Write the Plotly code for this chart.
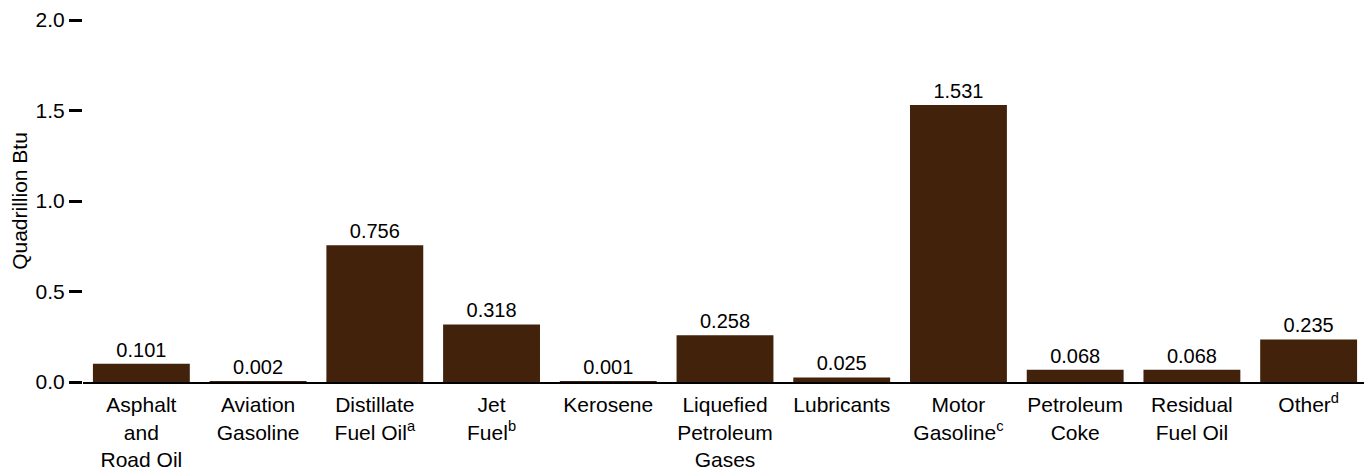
import plotly.graph_objects as go

categories = [
    "Asphalt<br>and<br>Road Oil",
    "Aviation<br>Gasoline",
    "Distillate<br>Fuel Oil<sup>a</sup>",
    "Jet<br>Fuel<sup>b</sup>",
    "Kerosene",
    "Liquefied<br>Petroleum<br>Gases",
    "Lubricants",
    "Motor<br>Gasoline<sup>c</sup>",
    "Petroleum<br>Coke",
    "Residual<br>Fuel Oil",
    "Other<sup>d</sup>",
]
values = [0.101, 0.002, 0.756, 0.318, 0.001, 0.258, 0.025, 1.531, 0.068, 0.068, 0.235]
value_labels = [f"{v:.3f}" for v in values]
y_ticks = [0.0, 0.5, 1.0, 1.5, 2.0]

FONT = "Liberation Sans, Arial, sans-serif"
BROWN = "#42220A"
FS = 21

fig = go.Figure(
    go.Bar(
        x=categories,
        y=values,
        text=value_labels,
        textposition="outside",
        textfont=dict(family=FONT, size=20, color="black"),
        marker=dict(color=BROWN, line=dict(width=0)),
        cliponaxis=False,
    )
)

fig.update_layout(
    width=1364,
    height=462,
    margin=dict(l=75, r=5, t=12, b=88, autoexpand=False),
    plot_bgcolor="white",
    paper_bgcolor="white",
    bargap=0.17,
    showlegend=False,
    font=dict(family=FONT, size=FS, color="black"),
)
fig.update_xaxes(
    automargin=False,
    showline=True,
    linecolor="black",
    linewidth=2,
    showgrid=False,
    ticks="",
    ticklabelstandoff=3,
    tickfont=dict(family=FONT, size=FS, color="black"),
)
fig.update_yaxes(
    automargin=False,
    range=[0, 2.0],
    tickvals=y_ticks,
    tickformat=".1f",
    showgrid=False,
    zeroline=False,
    showline=False,
    ticks="outside",
    ticklen=13,
    tickwidth=2.5,
    tickcolor="black",
    tickfont=dict(family=FONT, size=FS, color="black"),
    title=dict(text="Quadrillion Btu", font=dict(family=FONT, size=FS, color="black"), standoff=6),
)

fig.write_html("out.html")
